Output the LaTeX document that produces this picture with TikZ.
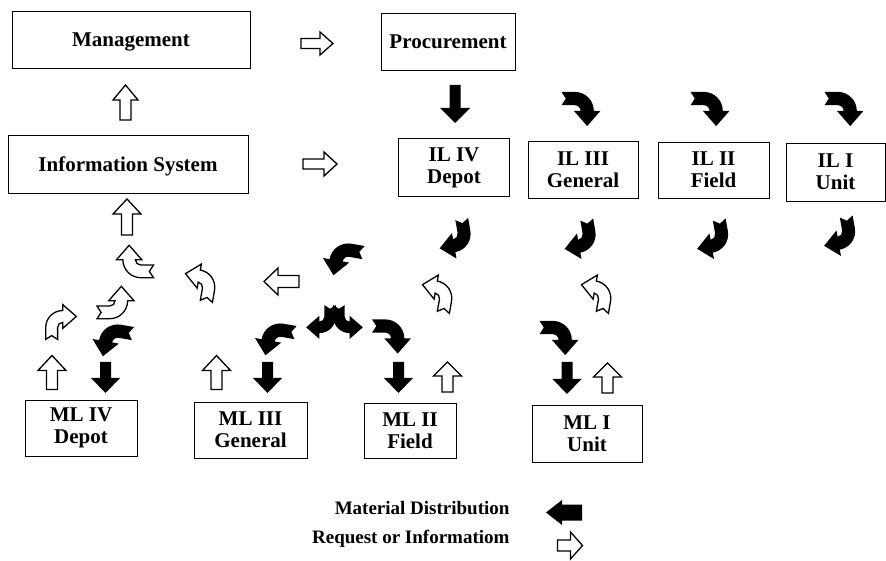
\documentclass[tikz,border=0pt]{standalone}
\usepackage{fontspec}
\setmainfont{Liberation Serif}
\newcommand\sarr[8]{%
 \path[#6, shift={(#1,#2)}, rotate=#5] (0,{#3/2}) -- ({#4/2},{#3/2-#8}) -- ({#7/2},{#3/2-#8}) -- ({#7/2},{-#3/2}) -- ({-#7/2},{-#3/2}) -- ({-#7/2},{#3/2-#8}) -- ({-#4/2},{#3/2-#8}) -- cycle;}
\newcommand\carr[6]{%
 \path[#6, shift={(#1,#2)}, rotate=#4, xscale=#5, scale=#3] (-1.025,0.9) -- (-0.325,0.9) arc[start angle=90,end angle=0,radius=1] -- (1.025,-0.1) -- (0.325,-0.9) -- (-0.375,-0.1) -- (-0.025,-0.1) arc[start angle=0,end angle=90,radius=0.3] -- (-1.025,0.2) -- (-0.8,0.55) -- cycle;}
\tikzset{
 box/.style={draw, line width=0.8pt, font=\bfseries\fontsize{21}{22}\selectfont, align=center, inner sep=0pt},
 onebox/.style={box, text depth=0pt},
 legtext/.style={anchor=east, font=\bfseries\fontsize{19}{20}\selectfont},
 hollow/.style={draw=black, fill=white, line width=1.3pt, line join=miter},
 solid/.style={fill=black},
}
\begin{document}
\begin{tikzpicture}[x=1pt,y=1pt]
\path[use as bounding box] (0,0) rectangle (886,560);
% boxes
\node[onebox, minimum width=238pt, minimum height=57pt] (mgmt) at (131,520.5) {Management};
\node[onebox, minimum width=134pt, minimum height=57pt] (proc) at (448,518.5) {Procurement};
\node[onebox, minimum width=240pt, minimum height=58pt] (info) at (128,396) {Information System};
\node[box, minimum width=111pt, minimum height=58pt] (il4) at (454,392.5) {IL IV\\Depot};
\node[box, minimum width=110pt, minimum height=57pt] (il3) at (583,390.5) {IL III\\General};
\node[box, minimum width=111pt, minimum height=56pt] (il2) at (713.5,390) {IL II\\Field};
\node[box, minimum width=99pt, minimum height=58pt] (il1) at (835.5,388) {IL I\\Unit};
\node[box, minimum width=112pt, minimum height=56pt] (ml4) at (81,132) {ML IV\\Depot};
\node[box, minimum width=113pt, minimum height=56pt] (ml3) at (250.5,130) {ML III\\General};
\node[box, minimum width=92pt, minimum height=55pt] (ml2) at (410,129) {ML II\\Field};
\node[box, minimum width=110pt, minimum height=57pt] (ml1) at (587,126) {ML I\\Unit};
% legend
\node[legtext] (leg1) at (513,52) {Material Distribution};
\node[legtext] (leg2) at (513,21) {Request or Informatiom};
\sarr{564}{47.5}{36}{25}{90}{solid}{16}{16}
\sarr{570}{14.5}{25}{27}{-90}{hollow}{11}{12}
% straight arrows top
\sarr{317}{516.5}{32}{23}{-90}{hollow}{10}{13}
\sarr{320}{396}{34}{24}{-90}{hollow}{10}{13}
\sarr{125.5}{457.5}{35}{25}{0}{hollow}{11}{15}
\sarr{455}{456}{38}{30}{180}{solid}{11}{15}
\sarr{127}{343}{36}{28}{0}{hollow}{11}{15}
\sarr{281.5}{278.5}{35}{27}{90}{hollow}{12}{14}
% straight arrows bottom row
\sarr{52}{187.5}{34}{28}{0}{hollow}{11}{15}
\sarr{105.5}{182.5}{31}{29}{180}{solid}{11}{15}
\sarr{216.5}{187.5}{34}{28}{0}{hollow}{11}{15}
\sarr{267.5}{182.5}{31}{29}{180}{solid}{11}{15}
\sarr{398.5}{182.5}{31}{29}{180}{solid}{11}{15}
\sarr{447.5}{183}{30}{28}{0}{hollow}{11}{14}
\sarr{567}{182}{32}{29}{180}{solid}{11}{15}
\sarr{607.5}{182}{30}{28}{0}{hollow}{11}{14}
% curved black right-down
\carr{581}{451}{19}{0}{1}{solid}
\carr{710}{451}{19}{0}{1}{solid}
\carr{844}{451}{19}{0}{1}{solid}
\carr{391.5}{223.5}{19}{0}{1}{solid}
\carr{559}{222}{19}{0}{1}{solid}
% curved black below IL boxes
\carr{455}{320.5}{18.5}{-80}{1}{solid}
\carr{580}{320}{18.5}{-80}{1}{solid}
\carr{712.5}{320}{18.5}{-80}{1}{solid}
\carr{839.5}{323}{18.5}{-80}{1}{solid}
% curved black, tail right, head down-left
\carr{112}{219.5}{19}{-10}{-1}{solid}
\carr{274.5}{220.5}{19}{-10}{-1}{solid}
\carr{342.5}{300.5}{19}{-10}{-1}{solid}
% double black
\carr{321}{238}{16.5}{-90}{1}{solid}
\carr{348}{238}{16.5}{90}{-1}{solid}
% hollow curved
\carr{200}{278}{17.5}{-100}{-1}{hollow}
\carr{437}{267}{17.5}{-100}{-1}{hollow}
\carr{596}{267}{17.5}{-100}{-1}{hollow}
\carr{135}{298.5}{18}{180}{1}{hollow}
\carr{115.5}{257.5}{18}{180}{-1}{hollow}
\carr{61}{238}{17}{90}{1}{hollow}
\end{tikzpicture}
\end{document}
